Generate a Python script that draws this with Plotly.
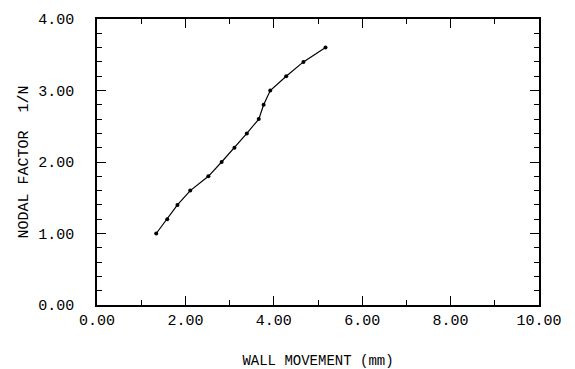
import plotly.graph_objects as go

# Data
wall_movement_mm = [1.34, 1.59, 1.82, 2.11, 2.52, 2.82, 3.11, 3.39, 3.66, 3.77, 3.92, 4.28, 4.67, 5.17]
nodal_factor = [1.00, 1.20, 1.40, 1.60, 1.80, 2.00, 2.20, 2.40, 2.60, 2.80, 3.00, 3.20, 3.40, 3.60]

x_ticks = [0, 2, 4, 6, 8, 10]
y_ticks = [0, 1, 2, 3, 4]

FONT = "Liberation Mono, DejaVu Sans Mono, monospace"

fig = go.Figure()
fig.add_trace(go.Scatter(
    x=wall_movement_mm, y=nodal_factor,
    mode="lines+markers",
    line=dict(color="black", width=1.2),
    marker=dict(color="black", size=4),
    showlegend=False,
))

axis_common = dict(
    showgrid=False, zeroline=False,
    showline=True, linecolor="black", linewidth=1.6,
    mirror="ticks",
    ticks="inside", tickcolor="black", tickwidth=1.2, ticklen=9,
    tickformat=".2f",
    tickfont=dict(family=FONT, size=15, color="black"),
)

fig.update_xaxes(
    range=[0, 10], tickvals=x_ticks,
    minor=dict(dtick=1, ticks="inside", ticklen=5, tickcolor="black", tickwidth=1),
    title=dict(text="WALL MOVEMENT (mm)", font=dict(family=FONT, size=14, color="black"), standoff=43),
    automargin=False,
    **axis_common,
)
fig.update_yaxes(
    range=[0, 4], tickvals=y_ticks,
    minor=dict(dtick=0.2, ticks="inside", ticklen=5, tickcolor="black", tickwidth=1),
    ticklabelstandoff=18,
    title=dict(text="NODAL FACTOR  1/N", font=dict(family=FONT, size=15, color="black"), standoff=6),
    **axis_common,
)

fig.update_layout(
    width=575, height=369,
    margin=dict(l=97, r=36, t=14, b=64),
    paper_bgcolor="white", plot_bgcolor="white",
)

fig.write_html("out.html")
